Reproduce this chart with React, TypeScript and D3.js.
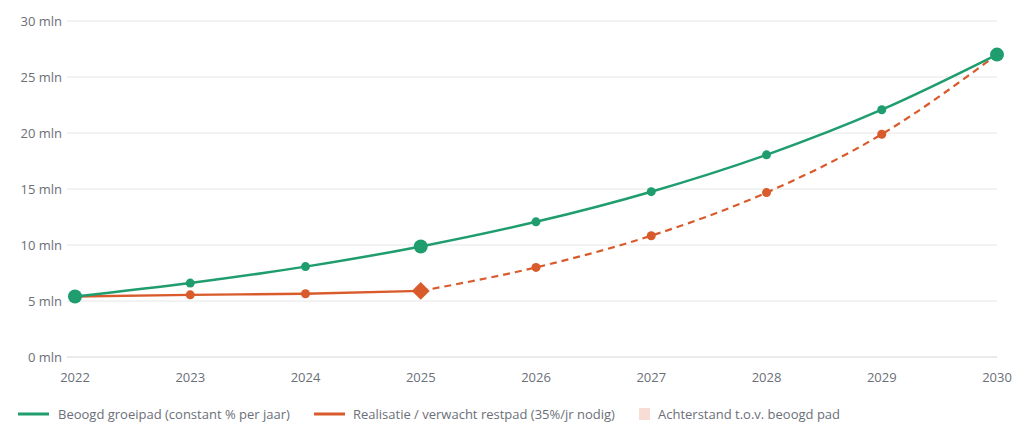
import React from "react";
import * as d3 from "d3";

const years = [2022, 2023, 2024, 2025, 2026, 2027, 2028, 2029, 2030];
const targetPath = [5.4, 6.6, 8.07, 9.87, 12.07, 14.76, 18.05, 22.08, 27.0];
const realised = [5.4, 5.55, 5.65, 5.9];
const forecastYears = [2025, 2026, 2027, 2028, 2029, 2030];
const forecast = [5.9, 8.0, 10.83, 14.68, 19.89, 27.0];
const bigDotYears = [2022, 2025, 2030];
const yTicks = [0, 5, 10, 15, 20, 25, 30];
const legendLabels = [
  "Beoogd groeipad (constant % per jaar)",
  "Realisatie / verwacht restpad (35%/jr nodig)",
  "Achterstand t.o.v. beoogd pad",
];

const GREEN = "#1f9d6f";
const ORANGE = "#d95a2b";
const TEXT = "#6b6f78";

const W = 1014;
const H = 423;

export default function App() {
  const x = d3.scaleLinear().domain([2022, 2030]).range([75, 997]);
  const y = d3.scaleLinear().domain([0, 30]).range([357, 21]);

  const line = d3
    .line<[number, number]>()
    .x((d) => x(d[0]))
    .y((d) => y(d[1]))
    .curve(d3.curveMonotoneX);

  const greenPts: [number, number][] = years.map((yr, i) => [yr, targetPath[i]]);
  const realPts: [number, number][] = realised.map((v, i) => [years[i], v]);
  const fcPts: [number, number][] = forecastYears.map((yr, i) => [yr, forecast[i]]);

  // square rotated 45deg -> even diamond
  const diamond = d3.symbol().type(d3.symbolSquare).size(160)();

  return (
    <svg
      width={W}
      height={H}
      style={{ position: "absolute", left: 0, top: 0, fontFamily: "'Open Sans', sans-serif" }}
    >
      <rect width={W} height={H} fill="#fff" />
      {/* grid + y ticks */}
      {yTicks.map((t) => (
        <g key={t}>
          <line
            x1={67}
            x2={997}
            y1={y(t)}
            y2={y(t)}
            stroke={t === 0 ? "#d6d6d6" : "#e6e6e6"}
            strokeWidth={1}
          />
          <text x={62} y={y(t)} dy="0.35em" textAnchor="end" fontSize={13} fill={TEXT}>
            {t} mln
          </text>
        </g>
      ))}
      {years.map((yr) => (
        <text key={yr} x={x(yr)} y={382} textAnchor="middle" fontSize={13} fill={TEXT}>
          {yr}
        </text>
      ))}

      {/* orange: realisation + forecast */}
      <path d={line(realPts) ?? ""} fill="none" stroke={ORANGE} strokeWidth={2.4} />
      <path
        d={line(fcPts) ?? ""}
        fill="none"
        stroke={ORANGE}
        strokeWidth={2.2}
        strokeDasharray="7 5"
      />
      {realPts.slice(1, 3).map((p) => (
        <circle key={p[0]} cx={x(p[0])} cy={y(p[1])} r={4.5} fill={ORANGE} />
      ))}
      {fcPts.slice(1, 5).map((p) => (
        <circle key={p[0]} cx={x(p[0])} cy={y(p[1])} r={4.5} fill={ORANGE} />
      ))}
      <path
        d={diamond ?? ""}
        transform={`translate(${x(2025)},${y(realised[3])}) rotate(45)`}
        fill={ORANGE}
      />

      {/* green target path */}
      <path d={line(greenPts) ?? ""} fill="none" stroke={GREEN} strokeWidth={2.5} />
      {greenPts.map((p) => (
        <circle
          key={p[0]}
          cx={x(p[0])}
          cy={y(p[1])}
          r={bigDotYears.includes(p[0]) ? 7 : 4.5}
          fill={GREEN}
        />
      ))}

      {/* legend */}
      <g fontSize={13} fill={TEXT}>
        <line x1={18} x2={49} y1={414} y2={414} stroke={GREEN} strokeWidth={3} />
        <text x={58} y={414} dy="0.35em">{legendLabels[0]}</text>
        <line x1={314} x2={345} y1={414} y2={414} stroke={ORANGE} strokeWidth={3} />
        <text x={353} y={414} dy="0.35em">{legendLabels[1]}</text>
        <rect x={639} y={408} width={11} height={12} fill="#f8ddd6" />
        <text x={658} y={414} dy="0.35em">{legendLabels[2]}</text>
      </g>
    </svg>
  );
}
